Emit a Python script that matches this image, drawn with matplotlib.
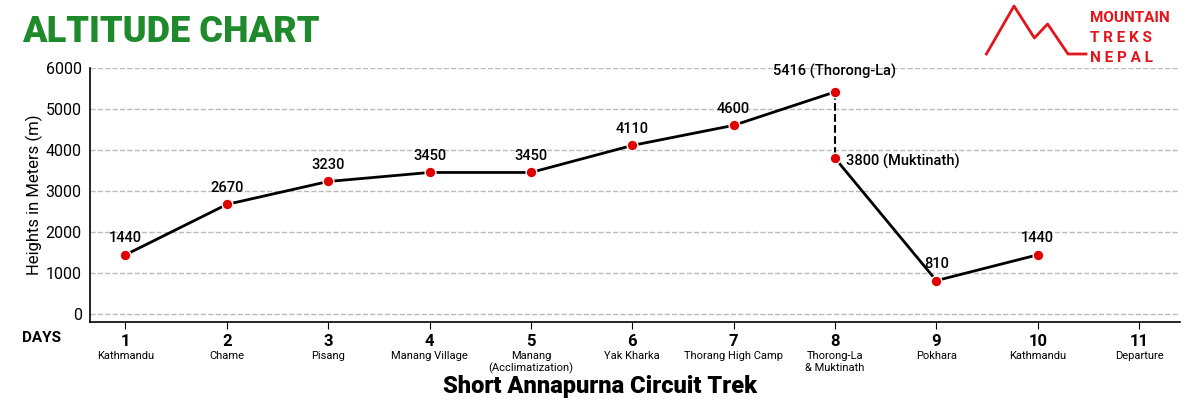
import matplotlib
matplotlib.use("Agg")
import matplotlib.pyplot as plt

days = [1, 2, 3, 4, 5, 6, 7, 8, 8, 9, 10]
alts = [1440, 2670, 3230, 3450, 3450, 4110, 4600, 5416, 3800, 810, 1440]
labels = ["1440", "2670", "3230", "3450", "3450", "4110", "4600", "5416 (Thorong-La)", "3800 (Muktinath)", "810", "1440"]
tick_days = list(range(1, 12))
places = ["Kathmandu", "Chame", "Pisang", "Manang Village", "Manang\n(Acclimatization)", "Yak Kharka",
          "Thorang High Camp", "Thorong-La\n& Muktinath", "Pokhara", "Kathmandu", "Departure"]

plt.rcParams['font.family'] = ['Roboto', 'DejaVu Sans']
fig = plt.figure(figsize=(12, 4), dpi=100)
ax = fig.add_axes([0.075, 0.195, 0.908, 0.635])
ax.set_xlim(0.65, 11.4)
ax.set_ylim(-200, 6000)
ax.set_yticks(range(0, 6001, 1000))
ax.tick_params(axis='y', labelsize=11.5, length=0, pad=6)
ax.grid(axis='y', linestyle='--', color='#bbbbbb', linewidth=1)
ax.set_axisbelow(True)
for s in ['top', 'right']:
    ax.spines[s].set_visible(False)
ax.spines['left'].set_linewidth(1.2)
ax.spines['bottom'].set_linewidth(1.2)
ax.set_ylabel("Heights in Meters (m)", fontsize=12, labelpad=2)

ax.plot(days[:8], alts[:8], color='black', lw=2, zorder=2)
ax.plot(days[7:9], alts[7:9], color='black', lw=1.5, ls='--', zorder=2)
ax.plot(days[8:], alts[8:], color='black', lw=2, zorder=2)
ax.scatter(days, alts, s=60, color='#e00000', edgecolor='white', linewidth=1, zorder=3)

for i, (d, a, t) in enumerate(zip(days, alts, labels)):
    if i == 7:
        ax.annotate(t, (d, a), xytext=(0, 12), textcoords='offset points', ha='center', fontsize=10.5, fontweight='medium')
    elif i == 8:
        ax.annotate(t, (d, a), xytext=(8, -2), textcoords='offset points', ha='left', va='center', fontsize=10.5, fontweight='medium')
    else:
        ax.annotate(t, (d, a), xytext=(0, 9), textcoords='offset points', ha='center', fontsize=10.5, fontweight='medium')

ax.set_xticks(tick_days)
ax.set_xticklabels([str(d) for d in tick_days], fontsize=12, fontweight='bold')
ax.tick_params(axis='x', length=5, pad=4)
for d, p in zip(tick_days, places):
    ax.text(d, -0.115, p, transform=ax.get_xaxis_transform(), ha='center', va='top', fontsize=8)
fig.text(0.018, 0.155, "DAYS", fontsize=11, fontweight='bold', va='center')

fig.text(0.018, 0.92, "ALTITUDE CHART", fontsize=26, fontweight='black', color='#1f8a2c', va='center')
fig.text(0.5, 0.035, "Short Annapurna Circuit Trek", fontsize=17, fontweight='black', ha='center', va='center')
fig.text(0.908, 0.955, "MOUNTAIN", fontsize=11, fontweight='bold', color='#e3151a', va='center')
fig.text(0.908, 0.905, "T R E K S", fontsize=11, fontweight='bold', color='#e3151a', va='center')
fig.text(0.908, 0.855, "N E P A L", fontsize=11, fontweight='bold', color='#e3151a', va='center')
lx = [0.822, 0.845, 0.862, 0.873, 0.890, 0.905]
ly = [0.865, 0.985, 0.905, 0.94, 0.865, 0.865]
fig.add_artist(plt.Line2D(lx, ly, color='#e3151a', lw=2, transform=fig.transFigure))
fig.savefig("out.png", dpi=100)
